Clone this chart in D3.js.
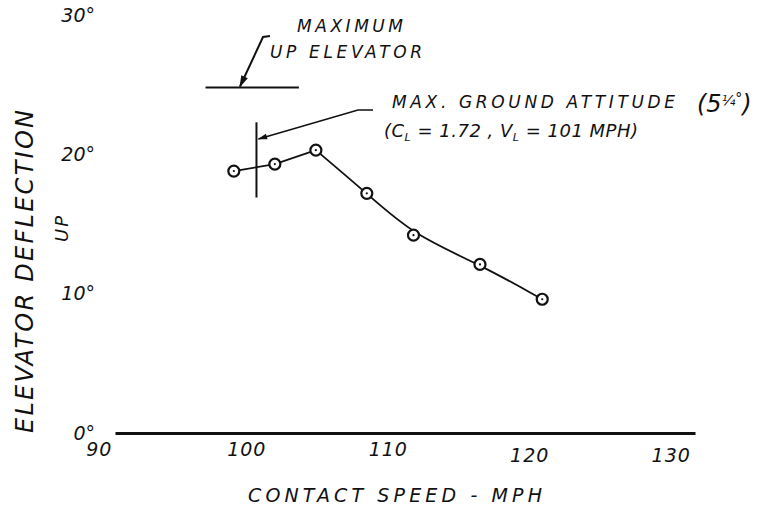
<!DOCTYPE html>
<html>
<head>
<meta charset="utf-8">
<script src="https://cdn.jsdelivr.net/npm/d3@7"></script>
<style>
  body { margin: 0; background: #fff; }
  svg text { font-family: "DejaVu Sans", sans-serif; font-style: italic; fill: #111; }
</style>
</head>
<body>
<svg width="760" height="510"></svg>
<script>
// values
const xTicks = [90, 100, 110, 120, 130];
const yTicks = [0, 10, 20, 30];
const speed = [99.4, 102.3, 105.2, 108.8, 112.1, 116.8, 121.2];
const deflection = [18.8, 19.3, 20.3, 17.2, 14.2, 12.1, 9.6];
const maxUpElevator = 24.8;
const maxUpSpan = [97.4, 104.0];
const groundSpeed = 101;
const groundSpan = [16.9, 22.3];

const svg = d3.select("svg");

const x = d3.scaleLinear().domain([91, 132]).range([115, 695]);
const y = d3.scaleLinear().domain([0, 30]).range([433, 15]);

const points = speed.map((s, i) => ({ s: s, d: deflection[i] }));

svg.append("defs")
  .append("marker")
  .attr("id", "head")
  .attr("viewBox", "0 0 10 10")
  .attr("refX", 9)
  .attr("refY", 5)
  .attr("markerWidth", 9)
  .attr("markerHeight", 6)
  .attr("orient", "auto")
  .append("path")
  .attr("d", "M0,2 L10,5 L0,8 Z")
  .attr("fill", "#111");

// x axis: heavy base line, no ticks
const xAxis = svg.append("g")
  .attr("transform", "translate(0," + y(0) + ")")
  .call(d3.axisBottom(x).tickValues(xTicks).tickSize(0).tickPadding(10));
xAxis.select(".domain").attr("stroke", "#111").attr("stroke-width", 3);
xAxis.selectAll("text")
  .attr("font-size", 19)
  .attr("letter-spacing", 1)
  .attr("fill", "#111")
  .attr("transform", (d, i) => "translate(" + (i == 0 ? -2 : 4) + "," + (d >= 120 ? 6 : 0) + ")");

// y labels only
const yAxis = svg.append("g")
  .attr("transform", "translate(97,0)")
  .call(d3.axisLeft(y).tickValues(yTicks).tickSize(0).tickPadding(2).tickFormat(d => d + "°"));
yAxis.select(".domain").remove();
yAxis.selectAll("text").attr("font-size", 19).attr("fill", "#111");

// the curve: straight up to the peak, faired line after it
const lineStraight = d3.line().x(d => x(d.s)).y(d => y(d.d));
const lineCurve = d3.line().curve(d3.curveBasis).x(d => x(d.s)).y(d => y(d.d));

svg.append("path")
  .attr("d", lineStraight(points.slice(0, 3)))
  .attr("fill", "none").attr("stroke", "#111").attr("stroke-width", 1.8);
svg.append("path")
  .attr("d", lineCurve(points.slice(2)))
  .attr("fill", "none").attr("stroke", "#111").attr("stroke-width", 1.8);

const marks = svg.selectAll(".pt").data(points).enter().append("g").attr("class", "pt");
marks.append("circle")
  .attr("cx", d => x(d.s)).attr("cy", d => y(d.d)).attr("r", 5.5)
  .attr("fill", "#fff").attr("stroke", "#111").attr("stroke-width", 2.2);
marks.append("circle")
  .attr("cx", d => x(d.s)).attr("cy", d => y(d.d)).attr("r", 1.1)
  .attr("fill", "#111");

// maximum up elevator
svg.append("line")
  .attr("x1", x(maxUpSpan[0])).attr("x2", x(maxUpSpan[1]))
  .attr("y1", y(maxUpElevator)).attr("y2", y(maxUpElevator))
  .attr("stroke", "#111").attr("stroke-width", 2);
svg.append("path")
  .attr("d", "M270,36 L263,37 L240," + (y(maxUpElevator) - 1))
  .attr("fill", "none").attr("stroke", "#111").attr("stroke-width", 2)
  .attr("marker-end", "url(#head)");

// max ground attitude
svg.append("line")
  .attr("x1", x(groundSpeed)).attr("x2", x(groundSpeed))
  .attr("y1", y(groundSpan[0])).attr("y2", y(groundSpan[1]))
  .attr("stroke", "#111").attr("stroke-width", 2);
svg.append("path")
  .attr("d", "M373,110 L358,110 L" + (x(groundSpeed) + 2) + ",139")
  .attr("fill", "none").attr("stroke", "#111").attr("stroke-width", 1.6)
  .attr("marker-end", "url(#head)");

svg.append("text").attr("x", 297).attr("y", 32).attr("font-size", 17)
  .attr("textLength", 106).attr("lengthAdjust", "spacing").text("MAXIMUM");
svg.append("text").attr("x", 270).attr("y", 58).attr("font-size", 17)
  .attr("textLength", 152).attr("lengthAdjust", "spacing").text("UP ELEVATOR");

svg.append("text").attr("x", 392).attr("y", 108).attr("font-size", 17)
  .attr("textLength", 283).attr("lengthAdjust", "spacing").text("MAX. GROUND ATTITUDE");
const frac = svg.append("text").attr("x", 697).attr("y", 112).attr("font-size", 24);
frac.append("tspan").text("(5");
frac.append("tspan").attr("font-size", 14).attr("dy", -7).text("¼");
frac.append("tspan").attr("font-size", 14).attr("dy", -2).text("°");
frac.append("tspan").attr("dy", 9).text(")");

const cl = svg.append("text").attr("x", 384).attr("y", 137).attr("font-size", 18).attr("letter-spacing", 0.5);
cl.append("tspan").text("(C");
cl.append("tspan").attr("font-size", 11).attr("dy", 4).text("L");
cl.append("tspan").attr("dy", -4).text(" = 1.72 ,  V");
cl.append("tspan").attr("font-size", 11).attr("dy", 4).text("L");
cl.append("tspan").attr("dy", -4).text(" = 101 MPH)");

// axis titles
svg.append("text")
  .attr("transform", "translate(33,433) rotate(-90)")
  .attr("font-size", 24)
  .attr("textLength", 323).attr("lengthAdjust", "spacing")
  .text("ELEVATOR  DEFLECTION");
svg.append("text")
  .attr("transform", "translate(68,242) rotate(-90)")
  .attr("font-size", 18)
  .attr("letter-spacing", 2)
  .text("UP");
svg.append("text")
  .attr("x", 248).attr("y", 502).attr("font-size", 19)
  .attr("textLength", 294).attr("lengthAdjust", "spacing")
  .text("CONTACT  SPEED -  MPH");
</script>
</body>
</html>
